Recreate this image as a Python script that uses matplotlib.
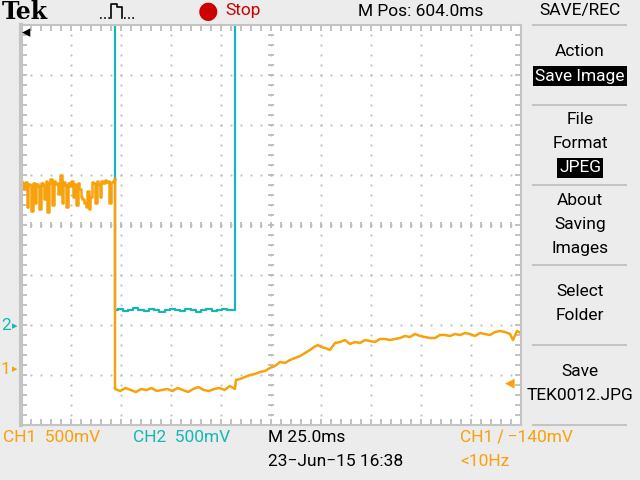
import numpy as np
import matplotlib
matplotlib.use("Agg")
import matplotlib.pyplot as plt

# scope settings
volts_per_div = 0.5
ms_per_div = 25.0
ch1_ground_div = -2.88
ch2_ground_div = -2.0
trig_level = -0.14

# CH1 (orange) before the drop, volts
ch1_pre = [1.88, 1.86, 1.80, 1.87, 1.62, 1.85, 1.84, 1.58, 1.86, 1.66,
           1.85, 1.83, 1.60, 1.86, 1.84, 1.70, 1.88, 1.57, 1.86, 1.90,
           1.64, 1.88, 1.85, 1.86, 1.75, 1.94, 1.66, 1.87, 1.84, 1.62,
           1.86, 1.83, 1.88, 1.72, 1.85, 1.64, 1.86, 1.80, 1.72, 1.70,
           1.66, 1.62, 1.78, 1.60, 1.72, 1.87, 1.86, 1.66, 1.88, 1.85,
           1.72, 1.88, 1.86, 1.89, 1.87, 1.88, 1.66, 1.87, 1.88, 1.90]
# CH1 low part
ch1_low = [-0.20, -0.22, -0.19, -0.21, -0.23, -0.20, -0.21, -0.19, -0.22, -0.21,
           -0.20, -0.22, -0.19, -0.21, -0.23, -0.20, -0.18, -0.21, -0.22, -0.20,
           -0.19, -0.21, -0.17, -0.20]
# CH1 slow rise after 107 ms
ch1_rise_t = [107.0, 107.5, 109.5, 112.0, 114.5, 117.0, 119.5, 122.0, 124.5, 127.0,
              129.5, 132.0, 134.5, 137.0, 139.5, 142.0, 144.5, 146.5, 148.5, 150.0,
              152.0, 154.5, 157.0, 159.5, 162.0, 164.5, 167.0, 169.5, 172.0, 174.5,
              177.0, 179.5, 182.0, 184.5, 187.0, 189.5, 192.0, 194.5, 197.0, 199.5,
              202.0, 204.5, 207.0, 209.5, 212.0, 214.5, 217.0, 219.5, 222.0, 224.5,
              227.0, 229.5, 232.0, 234.5, 237.0, 239.5, 242.0, 244.5, 246.0, 248.0,
              250.0]
ch1_rise = [-0.19, -0.11, -0.10, -0.08, -0.06, -0.05, -0.03, -0.02, 0.01, 0.03,
            0.07, 0.06, 0.09, 0.11, 0.13, 0.16, 0.19, 0.22, 0.24, 0.22,
            0.21, 0.19, 0.26, 0.27, 0.29, 0.25, 0.27, 0.26, 0.29, 0.28,
            0.27, 0.30, 0.30, 0.29, 0.30, 0.31, 0.33, 0.32, 0.35, 0.33,
            0.32, 0.31, 0.31, 0.34, 0.34, 0.33, 0.35, 0.34, 0.36, 0.35,
            0.33, 0.36, 0.35, 0.34, 0.37, 0.38, 0.37, 0.35, 0.29, 0.38,
            0.36]
# CH2 (cyan)
ch2_high = 3.5
ch2_low = [0.15, 0.16, 0.14, 0.15, 0.17, 0.15, 0.14, 0.16, 0.15, 0.13,
           0.15, 0.16, 0.15, 0.14, 0.16, 0.15, 0.13, 0.15, 0.16, 0.14,
           0.15, 0.16, 0.15, 0.15]
t_drop = 47.0
t_rise = 107.0

orange = "#f7a10c"
cyan = "#17b6b6"
bg = "#ececec"
dotc = "#b8b8b8"


def fpos(x, y):
    return x / 640.0, 1 - y / 480.0


t_pre = np.linspace(0, t_drop, len(ch1_pre))
t_low = np.linspace(t_drop, t_rise, len(ch1_low))
t1 = np.concatenate([t_pre, [t_drop], t_low, ch1_rise_t])
v1 = np.concatenate([ch1_pre, [ch1_low[0]], ch1_low, ch1_rise])
t2 = np.concatenate([[0, t_drop, t_drop], t_low, [t_rise, t_rise, 250]])
v2 = np.concatenate([[ch2_high, ch2_high, ch2_low[0]], ch2_low,
                     [ch2_low[-1], ch2_high, ch2_high]])

fig = plt.figure(figsize=(6.4, 4.8), dpi=100, facecolor=bg)
ax = fig.add_axes([21 / 640, 55 / 480, 500 / 640, 400 / 480])
ax.set_facecolor("white")
ax.set_xlim(0, 250)
ax.set_ylim(-4, 4)

# graticule
for k in range(1, 10):
    ax.plot(np.full(41, k * ms_per_div), np.linspace(-4, 4, 41), ls="none",
            marker="s", ms=1.3, color=dotc, mew=0)
for k in range(-3, 4):
    ax.plot(np.linspace(0, 250, 51), np.full(51, k), ls="none",
            marker="s", ms=1.3, color=dotc, mew=0)
ax.plot(np.linspace(0, 250, 51), np.zeros(51), ls="none", marker="|",
        ms=5, color=dotc, mew=1.2)
ax.plot(np.full(41, 125), np.linspace(-4, 4, 41), ls="none", marker="_",
        ms=5, color=dotc, mew=1.2)
ax.set_xticks(np.arange(0, 251, 5), minor=True)
ax.set_yticks(np.arange(-4, 4.01, 0.2), minor=True)
ax.set_xticks([])
ax.set_yticks([])
ax.tick_params(which="minor", direction="in", length=4, width=1.2,
               color=dotc, top=True, right=True, labelbottom=False, labelleft=False)
for s in ax.spines.values():
    s.set_color("#c4c4c4")
    s.set_linewidth(1.5)
ax.spines["left"].set_linewidth(3)

ax.plot(t2, v2 / volts_per_div + ch2_ground_div, color=cyan, lw=1.6,
        drawstyle="steps-mid")
ax.plot(t_pre, np.array(ch1_pre) / volts_per_div + ch1_ground_div,
        color=orange, lw=1.8, drawstyle="steps-mid")
ax.plot(t1[len(ch1_pre) - 1:], v1[len(ch1_pre) - 1:] / volts_per_div + ch1_ground_div,
        color=orange, lw=1.8)

font = ["Roboto", "DejaVu Sans"]
fs = 12.5

# top bar
fig.text(*fpos(2, 12), "Tek", family="DejaVu Serif", weight="bold",
         fontsize=17, va="center", ha="left")
fig.add_artist(plt.Line2D(np.array([100, 110]) / 640, [1 - 18 / 480] * 2,
                          color="black", lw=1.2, ls=(0, (1, 1.5))))
fig.add_artist(plt.Line2D(np.array([111, 111, 117, 117, 122, 122]) / 640,
                          1 - np.array([18, 4, 4, 7, 7, 18]) / 480,
                          color="black", lw=1.2))
fig.add_artist(plt.Line2D(np.array([124, 135]) / 640, [1 - 18 / 480] * 2,
                          color="black", lw=1.2, ls=(0, (1, 1.5))))
fig.text(*fpos(208, 11), "\u25cf", color="#cc0000", fontsize=17,
         va="center", ha="center")
fig.text(*fpos(225, 11), "Stop", color="#cc0000", family=font,
         fontsize=fs, va="center", ha="left")
fig.text(*fpos(358, 11), "M Pos: 604.0ms", family=font, fontsize=fs,
         va="center", ha="left")

# bottom bar
fig.text(*fpos(3, 437), "CH1  500mV", color=orange, family=font,
         fontsize=fs, va="center", ha="left")
fig.text(*fpos(133, 437), "CH2  500mV", color=cyan, family=font,
         fontsize=fs, va="center", ha="left")
fig.text(*fpos(268, 437), "M 25.0ms", family=font, fontsize=fs,
         va="center", ha="left")
fig.text(*fpos(268, 461), "23\u2212Jun\u221215 16:38", family=font,
         fontsize=fs, va="center", ha="left")
fig.text(*fpos(460, 437), "CH1 \u2215 \u2212140mV", color=orange,
         family=font, fontsize=fs, va="center", ha="left")
fig.text(*fpos(460, 461), "<10Hz", color=orange, family=font,
         fontsize=fs, va="center", ha="left")

# channel markers
fig.text(*fpos(1, 326), "2", color=cyan, family=font, fontsize=fs,
         va="center", ha="left")
fig.text(*fpos(12, 326), "\u25b8", color=cyan, fontsize=8,
         va="center", ha="left")
fig.text(*fpos(1, 369), "1", color=orange, family=font, fontsize=fs,
         va="center", ha="left")
fig.text(*fpos(12, 369), "\u25b8", color=orange, fontsize=8,
         va="center", ha="left")
fig.text(*fpos(22, 32), "\u25c2", color="black", fontsize=12,
         va="center", ha="left")
ax.text(242, trig_level / volts_per_div + ch1_ground_div, "\u25c0",
        color=orange, fontsize=9, va="center", ha="left")

# menu panel
for y in [25, 105, 185, 265, 345, 425]:
    fig.add_artist(plt.Line2D([533 / 640, 626 / 640], [1 - y / 480] * 2,
                              color="#c4c4c4", lw=1.5))
menu = [("SAVE/REC", 11), ("Action", 52), ("File", 120), ("Format", 144),
        ("About", 200), ("Saving", 224), ("Images", 248), ("Select", 292),
        ("Folder", 316), ("Save", 372), ("TEK0012.JPG", 396)]
for label, y in menu:
    fig.text(*fpos(580, y), label, family=font, fontsize=fs,
             va="center", ha="center")
for label, y in [("Save Image", 76), ("JPEG", 168)]:
    fig.text(*fpos(580, y), label, family=font, fontsize=fs, color="white",
             va="center", ha="center",
             bbox=dict(facecolor="black", edgecolor="none", pad=1.5))

fig.savefig("out.png", dpi=100, facecolor=bg)
